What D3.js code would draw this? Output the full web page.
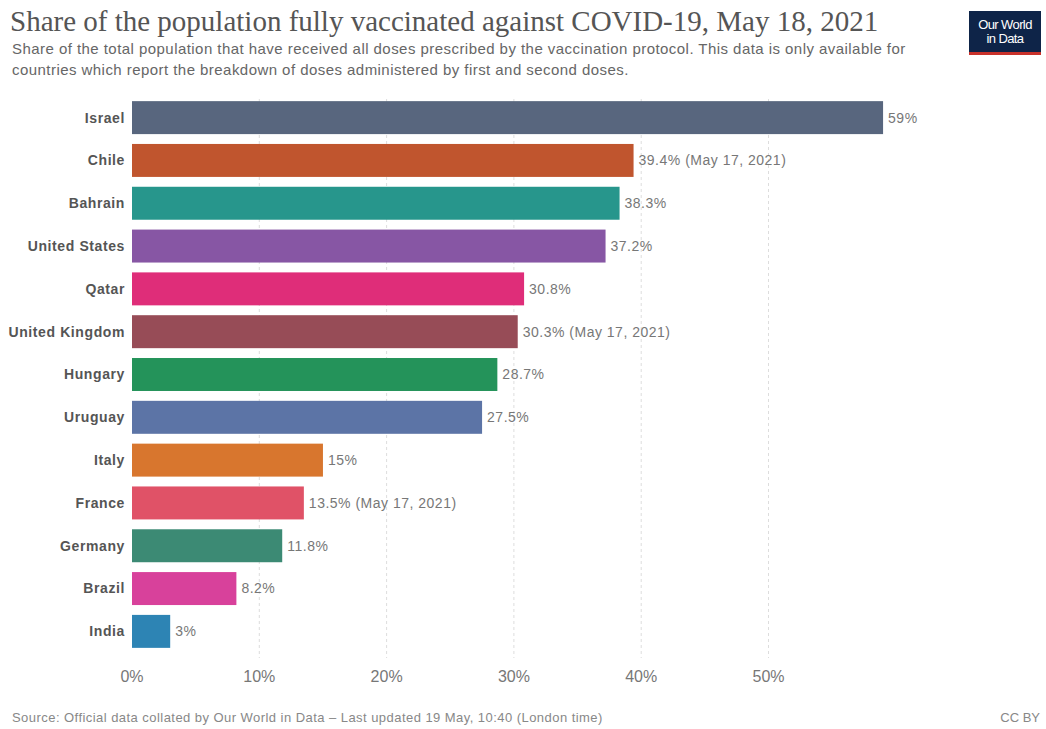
<!DOCTYPE html>
<html lang="en">
<head>
    <meta charset="UTF-8" />
    <title>Share of the population fully vaccinated against COVID-19</title>
    <script src="https://d3js.org/d3.v7.min.js"></script>
    <style>
        body {
            margin: 0;
            background: #fff;
            font-family: "Liberation Sans", Arial, sans-serif;
        }
        .grid line {
            stroke: #ddd;
            stroke-dasharray: 3, 3;
        }
    </style>
</head>
<body>
    <script>
        // data
        const countries = ['Israel', 'Chile', 'Bahrain', 'United States', 'Qatar', 'United Kingdom',
            'Hungary', 'Uruguay', 'Italy', 'France', 'Germany', 'Brazil', 'India'];
        const shares = [59, 39.4, 38.3, 37.2, 30.8, 30.3, 28.7, 27.5, 15, 13.5, 11.8, 8.2, 3];
        const notes = ['', ' (May 17, 2021)', '', '', '', ' (May 17, 2021)', '', '', '', ' (May 17, 2021)', '', '', ''];
        const colors = ['#58667e', '#c0552e', '#27968c', '#8756a4', '#df2d79', '#974c57',
            '#24935a', '#5c74a6', '#d8762e', '#e05267', '#3c8a74', '#d8419b', '#2d84b4'];
        const xTicks = [0, 10, 20, 30, 40, 50];

        const width = 1046, height = 729;
        const margin = { top: 99, left: 132, right: 120, bottom: 79 };

        const svg = d3.select('body').append('svg')
            .attr('width', width)
            .attr('height', height);

        const x = d3.scaleLinear().domain([0, 10]).range([margin.left, margin.left + 127.3]);
        const y = d3.scaleBand().domain(countries)
            .range([margin.top, height - margin.bottom])
            .paddingInner(0.23)
            .paddingOuter(0.05);

        // title + subtitle
        svg.append('text')
            .attr('x', 10).attr('y', 31)
            .attr('font-family', '"Liberation Serif", "DejaVu Serif", serif')
            .attr('font-size', 29)
            .attr('fill', '#555')
            .text('Share of the population fully vaccinated against COVID-19, May 18, 2021');

        const sub = ['Share of the total population that have received all doses prescribed by the vaccination protocol. This data is only available for',
            'countries which report the breakdown of doses administered by first and second doses.'];
        svg.selectAll('.sub').data(sub).enter().append('text')
            .attr('class', 'sub')
            .attr('x', 12)
            .attr('y', (d, i) => 54 + i * 21)
            .attr('font-size', 15)
            .attr('letter-spacing', 0.45)
            .attr('fill', '#666')
            .text(d => d);

        // logo
        const logo = svg.append('g').attr('transform', 'translate(969,11)');
        logo.append('rect').attr('width', 72).attr('height', 43).attr('fill', '#0e2448');
        logo.append('rect').attr('y', 41).attr('width', 72).attr('height', 3).attr('fill', '#c8312b');
        logo.selectAll('text').data(['Our World', 'in Data']).enter().append('text')
            .attr('x', 36).attr('y', (d, i) => 18 + i * 14)
            .attr('text-anchor', 'middle')
            .attr('font-size', 13)
            .attr('fill', '#fff')
            .attr('letter-spacing', -0.6)
            .text(d => d);

        // grid
        svg.append('g').attr('class', 'grid')
            .selectAll('line').data(xTicks.slice(1)).enter().append('line')
            .attr('x1', d => x(d)).attr('x2', d => x(d))
            .attr('y1', margin.top).attr('y2', 658);

        // x axis labels
        svg.append('g')
            .selectAll('text').data(xTicks).enter().append('text')
            .attr('x', d => x(d))
            .attr('y', 682)
            .attr('text-anchor', 'middle')
            .attr('font-size', 16)
            .attr('fill', '#777')
            .text(d => d + '%');

        // bars
        svg.append('g')
            .selectAll('rect').data(countries).enter().append('rect')
            .attr('x', x(0))
            .attr('y', d => y(d))
            .attr('width', (d, i) => x(shares[i]) - x(0))
            .attr('height', y.bandwidth())
            .attr('fill', (d, i) => colors[i]);

        // country labels
        svg.append('g')
            .selectAll('text').data(countries).enter().append('text')
            .attr('x', margin.left - 7)
            .attr('y', d => y(d) + y.bandwidth() / 2)
            .attr('dy', '0.35em')
            .attr('text-anchor', 'end')
            .attr('font-size', 14)
            .attr('letter-spacing', 0.6)
            .attr('font-weight', 'bold')
            .attr('fill', '#555')
            .text(d => d);

        // value labels
        svg.append('g')
            .selectAll('text').data(countries).enter().append('text')
            .attr('x', (d, i) => x(shares[i]) + 5)
            .attr('y', d => y(d) + y.bandwidth() / 2)
            .attr('dy', '0.35em')
            .attr('font-size', 14)
            .attr('letter-spacing', 0.5)
            .attr('fill', '#777')
            .text((d, i) => shares[i] + '%' + notes[i]);

        // footer
        svg.append('text')
            .attr('x', 12).attr('y', 722)
            .attr('font-size', 13)
            .attr('letter-spacing', 0.45)
            .attr('fill', '#888')
            .text('Source: Official data collated by Our World in Data – Last updated 19 May, 10:40 (London time)');
        svg.append('text')
            .attr('x', 1040).attr('y', 722)
            .attr('text-anchor', 'end')
            .attr('font-size', 13)
            .attr('fill', '#888')
            .text('CC BY');
    </script>
</body>
</html>
